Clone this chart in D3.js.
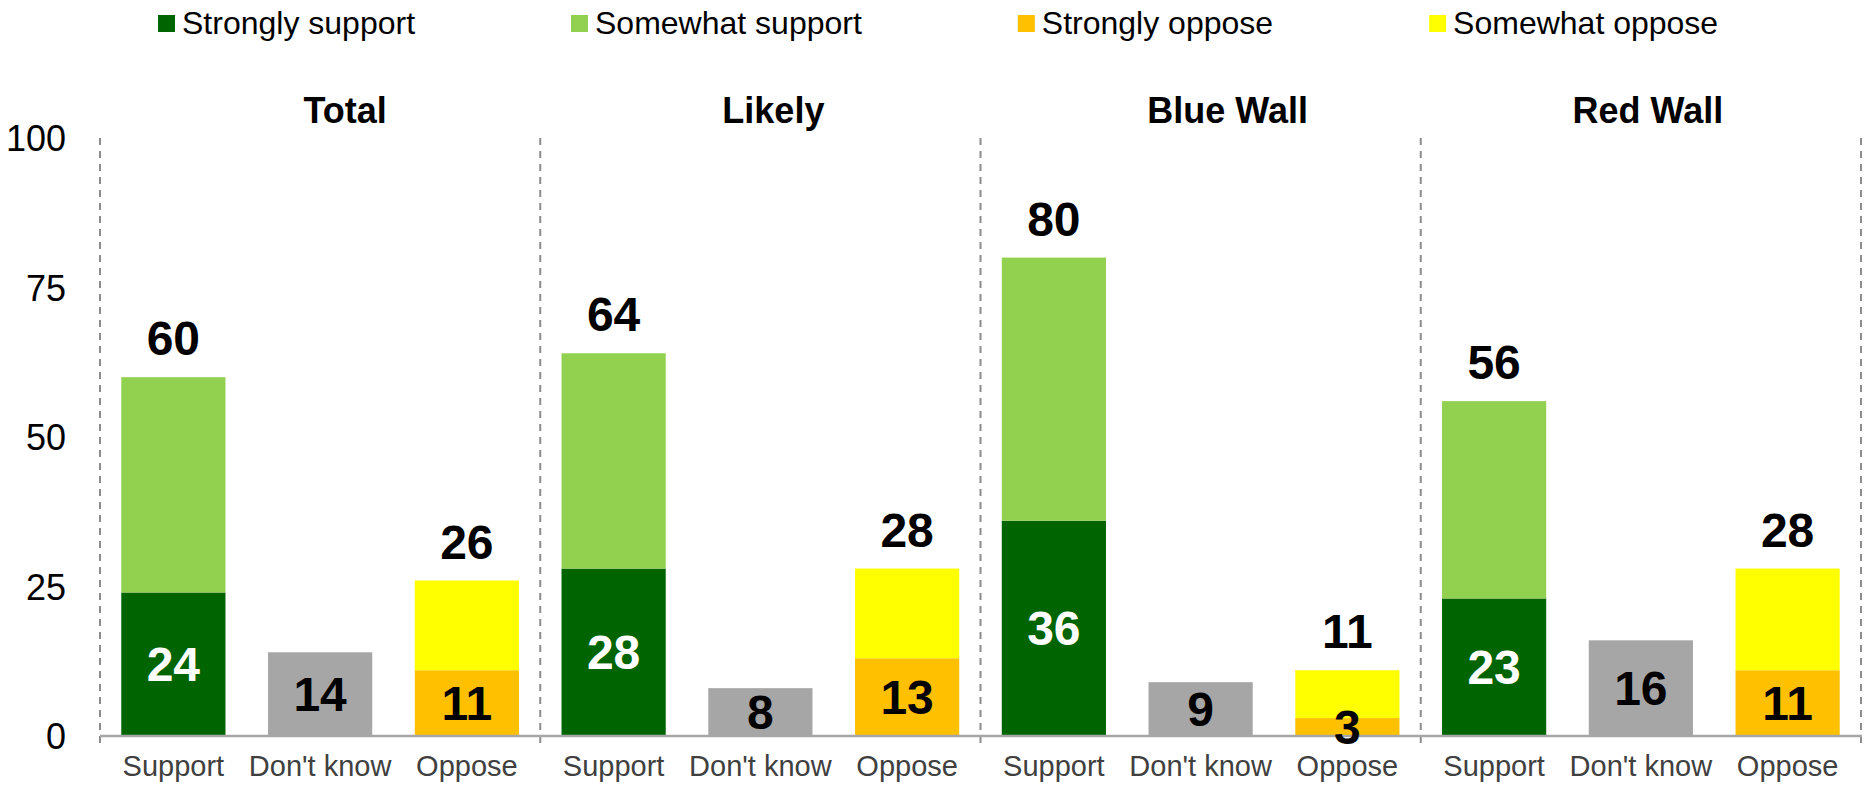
<!DOCTYPE html>
<html>
<head>
<meta charset="utf-8">
<script src="https://cdn.jsdelivr.net/npm/d3@7"></script>
<style>
  html, body { margin: 0; padding: 0; background: #fff; }
  svg { display: block; font-family: "Liberation Sans", Arial, sans-serif; }
</style>
</head>
<body>
<svg id="chart" width="1864" height="786"></svg>
<script>
// ---- data ----
const groups = ["Total", "Likely", "Blue Wall", "Red Wall"];
const categories = ["Support", "Don't know", "Oppose"];
const seriesNames = ["Strongly support", "Somewhat support", "Strongly oppose", "Somewhat oppose"];
const stronglySupport = [24, 28, 36, 23];
const somewhatSupport = [36, 36, 44, 33];
const dontKnow = [14, 8, 9, 16];
const stronglyOppose = [11, 13, 3, 11];
const somewhatOppose = [15, 15, 8, 17];
const supportTotal = [60, 64, 80, 56];
const opposeTotal = [26, 28, 11, 28];
const yTicks = [0, 25, 50, 75, 100];

// ---- styles / layout ----
const colors = {
  "Strongly support": "#006400",
  "Somewhat support": "#92D050",
  "Strongly oppose": "#FFC000",
  "Somewhat oppose": "#FFFF00",
  "Don't know": "#A6A6A6"
};
const titleDx = [25, 13, 27, 7];

const svg = d3.select("#chart");
const plotLeft = 100, plotRight = 1861, plotTop = 138, plotBottom = 736;

const y = d3.scaleLinear().domain([0, 100]).range([plotBottom, plotTop]);
const xOuter = d3.scaleBand().domain(groups).range([plotLeft, plotRight]).padding(0);
const xInner = d3.scaleBand().domain(categories).range([0, xOuter.bandwidth()])
  .paddingInner(0.29).paddingOuter(0.145);

// y tick labels
svg.append("g").selectAll("text").data(yTicks).join("text")
  .attr("x", 66).attr("y", d => y(d) + 13)
  .attr("text-anchor", "end")
  .attr("font-size", 36).attr("fill", "#000")
  .text(d => d);

// dashed separators
const bounds = groups.map(g => xOuter(g)).concat([plotRight]);
svg.append("g").selectAll("line").data(bounds).join("line")
  .attr("x1", d => d).attr("x2", d => d)
  .attr("y1", plotTop).attr("y2", plotBottom + 9)
  .attr("stroke", "#8C8C8C").attr("stroke-width", 2)
  .attr("stroke-dasharray", "7,6");

// build segments
const segs = [];
const labels = [];
groups.forEach((g, i) => {
  const x0 = xOuter(g);
  const cx = c => x0 + xInner(c) + xInner.bandwidth() / 2;
  // Support
  segs.push({ x: x0 + xInner("Support"), y0: 0, y1: stronglySupport[i], c: colors["Strongly support"] });
  segs.push({ x: x0 + xInner("Support"), y0: stronglySupport[i], y1: stronglySupport[i] + somewhatSupport[i], c: colors["Somewhat support"] });
  labels.push({ x: cx("Support"), v: stronglySupport[i] / 2, t: stronglySupport[i], fill: "#fff", mode: "mid" });
  labels.push({ x: cx("Support"), v: supportTotal[i], t: supportTotal[i], fill: "#000", mode: "top" });
  // Don't know
  segs.push({ x: x0 + xInner("Don't know"), y0: 0, y1: dontKnow[i], c: colors["Don't know"] });
  labels.push({ x: cx("Don't know"), v: dontKnow[i] / 2, t: dontKnow[i], fill: "#000", mode: "mid" });
  // Oppose
  segs.push({ x: x0 + xInner("Oppose"), y0: 0, y1: stronglyOppose[i], c: colors["Strongly oppose"] });
  segs.push({ x: x0 + xInner("Oppose"), y0: stronglyOppose[i], y1: stronglyOppose[i] + somewhatOppose[i], c: colors["Somewhat oppose"] });
  labels.push({ x: cx("Oppose"), v: stronglyOppose[i] / 2, t: stronglyOppose[i], fill: "#000", mode: "mid" });
  labels.push({ x: cx("Oppose"), v: opposeTotal[i], t: opposeTotal[i], fill: "#000", mode: "top" });
});

svg.append("g").selectAll("rect").data(segs).join("rect")
  .attr("x", d => d.x).attr("width", xInner.bandwidth())
  .attr("y", d => y(d.y1)).attr("height", d => y(d.y0) - y(d.y1))
  .attr("fill", d => d.c);

// baseline
svg.append("line")
  .attr("x1", plotLeft).attr("x2", plotRight + 1)
  .attr("y1", y(0)).attr("y2", y(0))
  .attr("stroke", "#A6A6A6").attr("stroke-width", 2.5);

svg.append("g").selectAll("text").data(labels).join("text")
  .attr("x", d => d.x)
  .attr("y", d => d.mode === "mid" ? y(d.v) + 17 : y(d.v) - 22)
  .attr("text-anchor", "middle")
  .attr("font-size", 48).attr("font-weight", "bold")
  .attr("fill", d => d.fill)
  .text(d => d.t);

// category labels
groups.forEach(g => {
  svg.append("g").selectAll("text").data(categories).join("text")
    .attr("x", c => xOuter(g) + xInner(c) + xInner.bandwidth() / 2)
    .attr("y", 776)
    .attr("text-anchor", "middle")
    .attr("font-size", 29).attr("fill", "#404040")
    .text(c => c);
});

// panel titles
svg.append("g").selectAll("text").data(groups).join("text")
  .attr("x", (g, i) => xOuter(g) + xOuter.bandwidth() / 2 + titleDx[i])
  .attr("y", 123)
  .attr("text-anchor", "middle")
  .attr("font-size", 36).attr("font-weight", "bold").attr("fill", "#000")
  .text(g => g);

// legend
const legend = svg.append("g");
let lx = 158;
seriesNames.forEach(name => {
  legend.append("rect").attr("x", lx).attr("y", 15).attr("width", 17).attr("height", 17)
    .attr("fill", colors[name]);
  const t = legend.append("text").attr("x", lx + 24).attr("y", 34)
    .attr("font-size", 32).attr("fill", "#000").text(name);
  lx = lx + 24 + t.node().getComputedTextLength() + 156;
});
</script>
</body>
</html>
